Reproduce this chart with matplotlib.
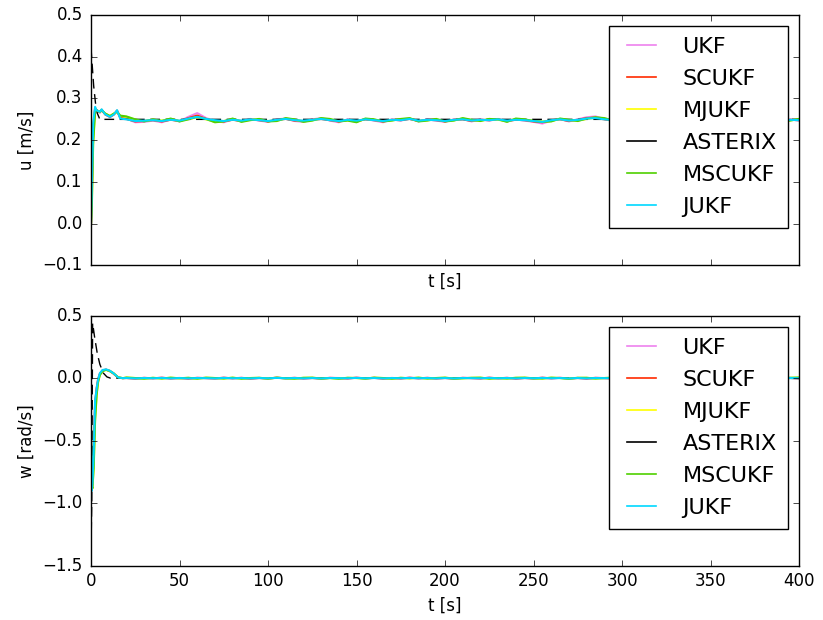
"""Surge velocity u and heave rate w estimated by the different UKF variants
against the ASTERIX reference, over a 400 s run."""

import numpy as np
import matplotlib

matplotlib.use("Agg")
import matplotlib.pyplot as plt
from matplotlib.lines import Line2D

plt.style.use("classic")

names = ["UKF", "SCUKF", "MJUKF", "ASTERIX", "MSCUKF", "JUKF"]
colors = ["violet", "#ff2a00", "yellow", "black", "#4fd000", "#00d8ff"]

# --- u [m/s] -------------------------------------------------------------
# start-up transient of the filters (t < 20 s)
t_u_start = [0.0, 0.5, 1.2, 2.3, 3.0, 4.0, 5.0, 6.0, 8.0, 10.7, 13.0, 14.7, 16.5]
u_start = {
    "UKF":     [0.0, 0.08, 0.22, 0.275, 0.270, 0.268, 0.266, 0.272, 0.262, 0.255, 0.262, 0.270, 0.254],
    "SCUKF":   [0.0, 0.09, 0.23, 0.277, 0.271, 0.269, 0.267, 0.273, 0.262, 0.256, 0.262, 0.271, 0.254],
    "MJUKF":   [0.0, 0.06, 0.20, 0.270, 0.272, 0.270, 0.268, 0.272, 0.264, 0.258, 0.264, 0.268, 0.258],
    "MSCUKF":  [0.0, 0.05, 0.19, 0.268, 0.272, 0.270, 0.268, 0.272, 0.264, 0.258, 0.264, 0.268, 0.259],
    "JUKF":    [0.0, 0.10, 0.24, 0.280, 0.272, 0.270, 0.268, 0.274, 0.262, 0.256, 0.262, 0.272, 0.252],
}
# 5 s samples from 20 s to 400 s
u_tail = {
    "UKF": [0.252, 0.243, 0.244, 0.247, 0.243, 0.250, 0.245, 0.256, 0.265, 0.253, 0.246, 0.243,
            0.250, 0.245, 0.251, 0.247, 0.244, 0.250, 0.252, 0.246, 0.244, 0.250, 0.253, 0.247,
            0.243, 0.250, 0.245, 0.251, 0.247, 0.243, 0.250, 0.247, 0.252, 0.245, 0.250, 0.247,
            0.244, 0.250, 0.251, 0.245, 0.250, 0.247, 0.251, 0.245, 0.250, 0.247, 0.244, 0.240,
            0.247, 0.251, 0.245, 0.250, 0.255, 0.257, 0.251, 0.246, 0.250, 0.245, 0.251, 0.247,
            0.243, 0.250, 0.253, 0.247, 0.244, 0.250, 0.251, 0.245, 0.250, 0.247, 0.251, 0.245,
            0.250, 0.247, 0.243, 0.250, 0.247],
    "SCUKF": [0.251, 0.245, 0.246, 0.248, 0.245, 0.249, 0.246, 0.253, 0.259, 0.251, 0.247, 0.245,
              0.249, 0.246, 0.250, 0.248, 0.245, 0.249, 0.251, 0.247, 0.246, 0.249, 0.251, 0.248,
              0.245, 0.249, 0.246, 0.250, 0.248, 0.245, 0.249, 0.248, 0.251, 0.246, 0.249, 0.248,
              0.245, 0.249, 0.250, 0.246, 0.249, 0.248, 0.250, 0.246, 0.249, 0.248, 0.245, 0.243,
              0.248, 0.250, 0.246, 0.249, 0.253, 0.254, 0.250, 0.247, 0.249, 0.246, 0.250, 0.248,
              0.245, 0.249, 0.251, 0.248, 0.246, 0.249, 0.250, 0.246, 0.249, 0.248, 0.250, 0.246,
              0.249, 0.248, 0.245, 0.249, 0.248],
    "MJUKF": [0.256, 0.249, 0.246, 0.249, 0.247, 0.251, 0.246, 0.251, 0.255, 0.250, 0.244, 0.246,
              0.251, 0.245, 0.249, 0.250, 0.246, 0.247, 0.252, 0.249, 0.245, 0.248, 0.252, 0.250,
              0.246, 0.248, 0.244, 0.251, 0.249, 0.246, 0.248, 0.250, 0.252, 0.246, 0.248, 0.250,
              0.246, 0.248, 0.252, 0.248, 0.247, 0.250, 0.249, 0.245, 0.251, 0.249, 0.247, 0.245,
              0.246, 0.251, 0.248, 0.247, 0.251, 0.254, 0.252, 0.248, 0.247, 0.246, 0.251, 0.249,
              0.246, 0.248, 0.252, 0.250, 0.246, 0.248, 0.252, 0.247, 0.248, 0.250, 0.249, 0.244,
              0.251, 0.249, 0.246, 0.248, 0.250],
    "MSCUKF": [0.257, 0.250, 0.245, 0.250, 0.246, 0.252, 0.245, 0.250, 0.256, 0.251, 0.243, 0.245,
               0.252, 0.244, 0.248, 0.251, 0.245, 0.246, 0.253, 0.250, 0.244, 0.247, 0.253, 0.251,
               0.245, 0.247, 0.243, 0.252, 0.250, 0.245, 0.247, 0.251, 0.253, 0.245, 0.247, 0.251,
               0.245, 0.247, 0.253, 0.249, 0.246, 0.251, 0.250, 0.244, 0.252, 0.250, 0.246, 0.244,
               0.245, 0.252, 0.249, 0.246, 0.252, 0.255, 0.253, 0.247, 0.246, 0.245, 0.252, 0.250,
               0.245, 0.247, 0.253, 0.251, 0.245, 0.247, 0.253, 0.246, 0.247, 0.251, 0.250, 0.243,
               0.252, 0.250, 0.245, 0.247, 0.251],
    "JUKF": [0.250, 0.246, 0.247, 0.248, 0.246, 0.249, 0.247, 0.252, 0.256, 0.251, 0.248, 0.246,
             0.249, 0.247, 0.250, 0.248, 0.246, 0.249, 0.251, 0.248, 0.247, 0.249, 0.251, 0.248,
             0.246, 0.249, 0.247, 0.250, 0.248, 0.246, 0.249, 0.248, 0.251, 0.247, 0.249, 0.248,
             0.246, 0.249, 0.250, 0.247, 0.249, 0.248, 0.250, 0.247, 0.249, 0.248, 0.246, 0.244,
             0.248, 0.250, 0.247, 0.249, 0.252, 0.253, 0.250, 0.248, 0.249, 0.247, 0.250, 0.248,
             0.246, 0.249, 0.251, 0.248, 0.247, 0.249, 0.250, 0.247, 0.249, 0.248, 0.250, 0.247,
             0.249, 0.248, 0.246, 0.249, 0.248],
}
# ASTERIX reference
t_u_ref = [0.0, 0.5, 1.5, 2.5, 3.5, 5.0, 400.0]
u_ref = [0.42, 0.39, 0.33, 0.29, 0.265, 0.25, 0.25]

# --- w [rad/s] -----------------------------------------------------------
t_w_start = [0.0, 0.4, 0.8, 1.5, 2.3, 3.2, 4.0, 5.0, 6.5, 8.5, 10.5, 12.6, 15.4, 18.0]
w_start = {
    "UKF":    [-0.5, -0.88, -0.82, -0.58, -0.20, -0.08, -0.01, 0.035, 0.062, 0.068, 0.058, 0.038, 0.004, 0.0],
    "SCUKF":  [-0.5, -0.88, -0.83, -0.59, -0.20, -0.08, -0.01, 0.035, 0.062, 0.068, 0.058, 0.038, 0.004, 0.0],
    "MJUKF":  [-0.5, -0.86, -0.88, -0.70, -0.32, -0.12, -0.03, 0.025, 0.058, 0.066, 0.058, 0.040, 0.006, 0.0],
    "MSCUKF": [-0.5, -0.86, -0.88, -0.72, -0.34, -0.13, -0.03, 0.025, 0.057, 0.066, 0.058, 0.040, 0.006, 0.0],
    "JUKF":   [-0.5, -0.90, -0.84, -0.60, -0.18, -0.08, -0.01, 0.040, 0.065, 0.070, 0.060, 0.040, 0.005, 0.0],
}
w_tail = {
    "UKF": [0.002, -0.004, 0.003, -0.002, 0.004, -0.003, 0.002, -0.004, 0.003, 0.001, -0.003, 0.004,
            -0.002, 0.003, -0.004, 0.002, -0.003, 0.004, -0.002, 0.003, -0.003, 0.002, -0.004, 0.003,
            0.001, -0.003, 0.004, -0.002, 0.003, -0.004, 0.002, -0.003, 0.004, -0.002, 0.003, -0.003,
            0.002, -0.004, 0.003, 0.001, -0.003, 0.004, -0.002, 0.003, -0.004, 0.002, -0.003, 0.004,
            -0.002, 0.003, -0.003, 0.002, -0.004, 0.003, 0.001, -0.003, 0.004, -0.002, 0.003, -0.004,
            0.002, -0.003, 0.004, -0.002, 0.003, -0.003, 0.002, -0.004, 0.003, 0.001, -0.003, 0.004,
            -0.002, 0.003, -0.004, 0.002, -0.003],
    "SCUKF": [0.001, -0.003, 0.002, -0.001, 0.003, -0.002, 0.001, -0.003, 0.002, 0.000, -0.002, 0.003,
              -0.001, 0.002, -0.003, 0.001, -0.002, 0.003, -0.001, 0.002, -0.002, 0.001, -0.003, 0.002,
              0.000, -0.002, 0.003, -0.001, 0.002, -0.003, 0.001, -0.002, 0.003, -0.001, 0.002, -0.002,
              0.001, -0.003, 0.002, 0.000, -0.002, 0.003, -0.001, 0.002, -0.003, 0.001, -0.002, 0.003,
              -0.001, 0.002, -0.002, 0.001, -0.003, 0.002, 0.000, -0.002, 0.003, -0.001, 0.002, -0.003,
              0.001, -0.002, 0.003, -0.001, 0.002, -0.002, 0.001, -0.003, 0.002, 0.000, -0.002, 0.003,
              -0.001, 0.002, -0.003, 0.001, -0.002],
    "MJUKF": [0.004, 0.001, -0.003, 0.002, -0.002, 0.003, -0.001, 0.002, -0.003, 0.003, 0.001, -0.002,
              0.003, -0.003, 0.001, 0.002, -0.002, 0.003, -0.001, -0.003, 0.002, 0.003, -0.002, 0.001,
              -0.003, 0.002, 0.001, -0.002, 0.003, 0.001, -0.003, 0.002, -0.001, 0.003, -0.002, 0.001,
              0.003, -0.002, -0.001, 0.002, 0.003, -0.003, 0.001, -0.002, 0.002, 0.003, -0.001, -0.002,
              0.003, 0.001, -0.003, 0.002, 0.002, -0.002, 0.001, 0.003, -0.002, 0.001, -0.003, 0.002,
              0.003, -0.001, -0.002, 0.002, 0.001, -0.003, 0.003, 0.001, -0.002, 0.002, -0.001, 0.003,
              0.002, -0.003, 0.001, 0.002, 0.004],
    "MSCUKF": [0.005, 0.001, -0.004, 0.003, -0.003, 0.004, -0.001, 0.003, -0.004, 0.004, 0.001, -0.003,
               0.004, -0.004, 0.001, 0.003, -0.003, 0.004, -0.001, -0.004, 0.003, 0.004, -0.003, 0.001,
               -0.004, 0.003, 0.001, -0.003, 0.004, 0.001, -0.004, 0.003, -0.001, 0.004, -0.003, 0.001,
               0.004, -0.003, -0.001, 0.003, 0.004, -0.004, 0.001, -0.003, 0.003, 0.004, -0.001, -0.003,
               0.004, 0.001, -0.004, 0.003, 0.003, -0.003, 0.001, 0.004, -0.003, 0.001, -0.004, 0.003,
               0.004, -0.001, -0.003, 0.003, 0.001, -0.004, 0.004, 0.001, -0.003, 0.003, -0.001, 0.004,
               0.003, -0.004, 0.001, 0.003, 0.005],
    "JUKF": [0.001, -0.002, 0.001, -0.001, 0.002, -0.002, 0.001, -0.002, 0.001, 0.000, -0.002, 0.002,
             -0.001, 0.001, -0.002, 0.001, -0.001, 0.002, -0.001, 0.001, -0.002, 0.001, -0.002, 0.001,
             0.000, -0.001, 0.002, -0.001, 0.001, -0.002, 0.001, -0.001, 0.002, -0.001, 0.001, -0.002,
             0.001, -0.002, 0.001, 0.000, -0.001, 0.002, -0.001, 0.001, -0.002, 0.001, -0.001, 0.002,
             -0.001, 0.001, -0.002, 0.001, -0.002, 0.001, 0.000, -0.001, 0.002, -0.001, 0.001, -0.002,
             0.001, -0.001, 0.002, -0.001, 0.001, -0.002, 0.001, -0.002, 0.001, 0.000, -0.001, 0.002,
             -0.001, 0.001, -0.002, 0.001, -0.001],
}
t_w_ref = [0.0, 0.4, 0.9, 2.0, 3.5, 5.0, 7.0, 9.0, 11.0, 400.0]
w_ref = [-1.35, -1.0, 0.44, 0.33, 0.20, 0.11, 0.04, 0.01, 0.0, 0.0]


def series(t_start, start, tail):
    t_tail = np.linspace(20, 400, len(tail))
    return np.concatenate([t_start, t_tail]), np.concatenate([start, tail])


fig, (ax_u, ax_w) = plt.subplots(2, 1, figsize=(8.23, 6.2), dpi=100, sharex=True)
fig.subplots_adjust(left=0.1106, right=0.9709, top=0.9758, bottom=0.0871, hspace=0.2)

for name, color in zip(names, colors):
    if name == "ASTERIX":
        ax_u.plot(t_u_ref, u_ref, "--", color=color, lw=1.0, dashes=(7, 4))
        ax_w.plot(t_w_ref, w_ref, "--", color=color, lw=1.0, dashes=(7, 4))
        continue
    t, u = series(t_u_start, u_start[name], u_tail[name])
    ax_u.plot(t, u, color=color, lw=1.5)
    t, w = series(t_w_start, w_start[name], w_tail[name])
    ax_w.plot(t, w, color=color, lw=1.5)

# legend keys are plain thin lines, the reference included
handles = [Line2D([], [], color=c, lw=1.2) for c in colors]

ax_u.set_ylim(-0.1, 0.5)
ax_u.set_ylabel("u [m/s]")
ax_u.set_xlabel("t [s]")
ax_u.tick_params(labelbottom=False)

ax_w.set_ylim(-1.5, 0.5)
ax_w.set_xlim(0, 400)
ax_w.set_ylabel("w [rad/s]")
ax_w.set_xlabel("t [s]")

for ax in (ax_u, ax_w):
    ax.tick_params(axis="y", pad=6)
    ax.legend(handles, names, loc="upper right", fontsize=16,
              handlelength=1.9, handletextpad=0.9, labelspacing=0.54,
              borderpad=0.5)

fig.savefig("out.png", dpi=100)
